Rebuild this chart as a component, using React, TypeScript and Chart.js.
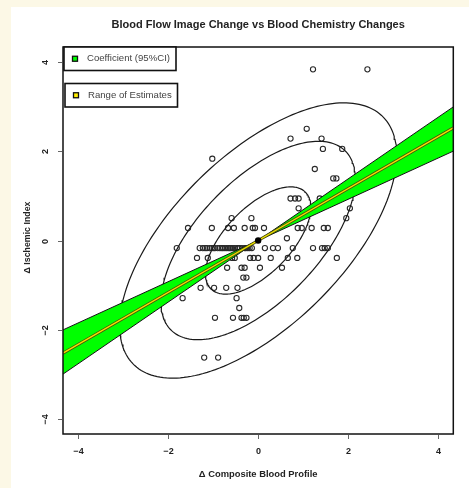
import React, { useEffect, useRef } from 'react';
import { Chart, registerables } from 'chart.js';

Chart.register(...registerables);

const titleText = 'Blood Flow Image Change vs Blood Chemistry Changes';
const xTitle = '\u0394 Composite Blood Profile';
const yTitle = '\u0394 Ischemic Index';
const xTicks = [-4, -2, 0, 2, 4];
const yTicks = [-4, -2, 0, 2, 4];
const legendLabels = ['Coefficient (95%CI)', 'Range of Estimates'];
const legendColors = ['#00ff00', '#ffee00'];

const xRange = [-4.34, 4.34];
const yRange = [-4.33, 4.33];

// observed points
const pointX = [
  1.22, 2.43,
  1.08,
  0.72, 1.41,
  1.44, 1.87,
  -1.02,
  1.26,
  1.67, 1.74,
  0.72, 0.82, 0.9, 1.37,
  0.9, 2.04,
  -0.59, -0.15, 1.96,
  -1.56, -1.03, -0.67, -0.54, -0.3, -0.12, -0.07, 0.13, 0.88, 0.97, 1.19, 1.46, 1.55,
  0.64,
  -1.81, -1.3, -1.23, -1.18, -1.14, -1.08, -1.03, -0.99, -0.96, -0.9, -0.85, -0.81, -0.78, -0.74, -0.7, -0.66, -0.63, -0.6, -0.56, -0.52, -0.47, -0.44, -0.41, -0.36, -0.3, -0.27, -0.23, -0.19, -0.14, 0.15, 0.33, 0.44, 0.77, 1.22, 1.42, 1.48, 1.55,
  -1.36, -1.12, -0.58, -0.52, -0.18, -0.1, 0.0, 0.28, 0.66, 0.87, 1.75,
  -0.69, -0.37, -0.3, 0.04, 0.53,
  -0.33, -0.26,
  -1.28, -0.98, -0.71, -0.46,
  -1.68, -0.48,
  -0.42,
  -0.96, -0.56, -0.37, -0.32, -0.26,
  -1.2, -0.89,
];
const pointY = [
  3.83, 3.83,
  2.5,
  2.28, 2.28,
  2.05, 2.05,
  1.83,
  1.6,
  1.39, 1.39,
  0.94, 0.94, 0.94, 0.94,
  0.72, 0.72,
  0.5, 0.5, 0.5,
  0.28, 0.28, 0.28, 0.28, 0.28, 0.28, 0.28, 0.28, 0.28, 0.28, 0.28, 0.28, 0.28,
  0.05,
  -0.17, -0.17, -0.17, -0.17, -0.17, -0.17, -0.17, -0.17, -0.17, -0.17, -0.17, -0.17, -0.17, -0.17, -0.17, -0.17, -0.17, -0.17, -0.17, -0.17, -0.17, -0.17, -0.17, -0.17, -0.17, -0.17, -0.17, -0.17, -0.17, -0.17, -0.17, -0.17, -0.17, -0.17, -0.17, -0.17, -0.17,
  -0.39, -0.39, -0.39, -0.39, -0.39, -0.39, -0.39, -0.39, -0.39, -0.39, -0.39,
  -0.61, -0.61, -0.61, -0.61, -0.61,
  -0.83, -0.83,
  -1.06, -1.06, -1.06, -1.06,
  -1.29, -1.29,
  -1.51,
  -1.73, -1.73, -1.73, -1.73, -1.73,
  -2.62, -2.62,
];

const meanX = [0];
const meanY = [0];

// regression line and 95% CI band (values at x = min, 0, max)
const lineX = [-4.34, 0, 4.34];
const estimateY = [-2.52, 0, 2.52];
const ciSteepY = [-2.99, 0, 2.99];
const ciShallowY = [-2.0, 0, 2.0];

// confidence ellipses (semi-extents along x and y, correlation)
const ellipseSemiX = [1.17, 2.16, 3.08];
const ellipseSemiY = [1.2, 2.22, 3.08];
const ellipseCorr = 0.62;

function ellipsePoints(ax: number, ay: number) {
  const pts: { x: number; y: number }[] = [];
  const n = 200;
  const s = Math.sqrt(1 - ellipseCorr * ellipseCorr);
  for (let i = 0; i <= n; i++) {
    const t = (2 * Math.PI * i) / n;
    pts.push({ x: ax * Math.cos(t), y: ay * (ellipseCorr * Math.cos(t) + s * Math.sin(t)) });
  }
  return pts;
}

const zip = (xs: number[], ys: number[]) => xs.map((x, i) => ({ x, y: ys[i] }));

const FONT = '"Liberation Sans", Arial, Helvetica, sans-serif';

const decorPlugin = {
  id: 'decor',
  beforeDraw(chart: any) {
    const ctx = chart.ctx;
    ctx.save();
    ctx.fillStyle = '#fcf8e6';
    ctx.fillRect(0, 0, chart.width, chart.height);
    ctx.fillStyle = '#ffffff';
    ctx.fillRect(11, 7, chart.width - 11, chart.height - 7);
    ctx.restore();
  },
  afterDraw(chart: any) {
    const ctx = chart.ctx;
    const a = chart.chartArea;
    const xs = chart.scales.x;
    const ys = chart.scales.y;
    ctx.save();
    // plot border
    ctx.strokeStyle = '#111';
    ctx.lineWidth = 1.5;
    ctx.strokeRect(a.left, a.top, a.right - a.left, a.bottom - a.top);

    // ticks
    ctx.strokeStyle = '#666';
    ctx.lineWidth = 1;
    ctx.fillStyle = '#222';
    ctx.font = `bold 9px ${FONT}`;
    ctx.textAlign = 'center';
    ctx.textBaseline = 'middle';
    const fmt = (v: number) => (v < 0 ? '\u2212' + Math.abs(v) : String(v));
    xTicks.forEach((v) => {
      const px = Math.round(xs.getPixelForValue(v)) + 0.5;
      ctx.beginPath();
      ctx.moveTo(px, a.bottom + 1);
      ctx.lineTo(px, a.bottom + 5);
      ctx.stroke();
      ctx.fillText(fmt(v), px, a.bottom + 18);
    });
    yTicks.forEach((v) => {
      const py = Math.round(ys.getPixelForValue(v)) + 0.5;
      ctx.beginPath();
      ctx.moveTo(a.left - 1, py);
      ctx.lineTo(a.left - 5, py);
      ctx.stroke();
      ctx.save();
      ctx.translate(a.left - 17, py);
      ctx.rotate(-Math.PI / 2);
      ctx.fillText(fmt(v), 0, 0);
      ctx.restore();
    });

    // titles
    ctx.font = `bold 11px ${FONT}`;
    ctx.fillText(titleText, (a.left + a.right) / 2, 25);
    ctx.font = `bold 9.4px ${FONT}`;
    ctx.fillText(xTitle, (a.left + a.right) / 2, a.bottom + 40);
    ctx.save();
    ctx.translate(28, (a.top + a.bottom) / 2 - 3);
    ctx.rotate(-Math.PI / 2);
    ctx.font = `bold 8.8px ${FONT}`;
    ctx.fillText(yTitle, 0, 0);
    ctx.restore();

    // legend boxes
    const boxes = [
      { x: a.left + 1, y: a.top, w: 112, h: 23.5 },
      { x: a.left + 2, y: a.top + 36.5, w: 112.5, h: 23.5 },
    ];
    boxes.forEach((b, i) => {
      ctx.fillStyle = '#ffffff';
      ctx.fillRect(b.x, b.y, b.w, b.h);
      ctx.strokeStyle = '#111';
      ctx.lineWidth = 1.6;
      ctx.strokeRect(b.x, b.y, b.w, b.h);
      const cy = b.y + b.h / 2;
      ctx.fillStyle = legendColors[i];
      ctx.fillRect(b.x + 8.5, cy - 2.5, 5, 5);
      ctx.strokeStyle = '#111';
      ctx.lineWidth = 1.3;
      ctx.strokeRect(b.x + 8.5, cy - 2.5, 5, 5);
      ctx.fillStyle = '#444';
      ctx.font = `9.6px ${FONT}`;
      ctx.textAlign = 'left';
      ctx.fillText(legendLabels[i], b.x + 23, cy);
      ctx.textAlign = 'center';
    });
    ctx.restore();
  },
};

export default function App() {
  const ref = useRef<HTMLCanvasElement | null>(null);
  useEffect(() => {
    if (!ref.current) return;
    const ellipseSets = ellipseSemiX.map((ax, i) => ({
      type: 'scatter' as const,
      data: ellipsePoints(ax, ellipseSemiY[i]),
      showLine: true,
      borderColor: '#1a1a1a',
      borderWidth: 1.2,
      pointRadius: 0,
      fill: false,
      tension: 0,
    }));
    const chart = new Chart(ref.current, {
      type: 'scatter',
      data: {
        datasets: [
          {
            data: zip(meanX, meanY),
            pointRadius: 3.2,
            backgroundColor: '#000',
            borderColor: '#000',
            borderWidth: 0,
          },
          {
            data: zip(lineX, estimateY),
            showLine: true,
            borderColor: '#f2e600',
            borderWidth: 1.4,
            pointRadius: 0,
          },
          {
            data: zip(lineX, estimateY),
            showLine: true,
            borderColor: '#4a4a10',
            borderWidth: 3,
            pointRadius: 0,
          },
          {
            data: zip(lineX, ciShallowY),
            showLine: true,
            borderColor: '#111',
            borderWidth: 1,
            pointRadius: 0,
          },
          {
            data: zip(lineX, ciSteepY),
            showLine: true,
            borderColor: '#111',
            borderWidth: 1,
            pointRadius: 0,
            fill: { target: 3, above: '#00ff00', below: '#00ff00' },
          },
          ...ellipseSets,
          {
            data: zip(pointX, pointY),
            pointRadius: 2.6,
            pointStyle: 'circle',
            backgroundColor: 'rgba(0,0,0,0)',
            borderColor: '#2a2a2a',
            borderWidth: 1.1,
          },
        ] as any,
      },
      options: {
        animation: false,
        responsive: false,
        devicePixelRatio: 1,
        layout: { padding: { left: 63, top: 47, right: 15.7, bottom: 54 } },
        plugins: { legend: { display: false }, tooltip: { enabled: false }, title: { display: false } },
        events: [],
        scales: {
          x: { type: 'linear', min: xRange[0], max: xRange[1], display: false },
          y: { type: 'linear', min: yRange[0], max: yRange[1], display: false },
        },
      },
      plugins: [decorPlugin],
    });
    return () => chart.destroy();
  }, []);
  return (
    <div style={{ position: 'absolute', left: 0, top: 0, width: 469, height: 488 }}>
      <canvas ref={ref} width={469} height={488} style={{ width: 469, height: 488, display: 'block' }} />
    </div>
  );
}
